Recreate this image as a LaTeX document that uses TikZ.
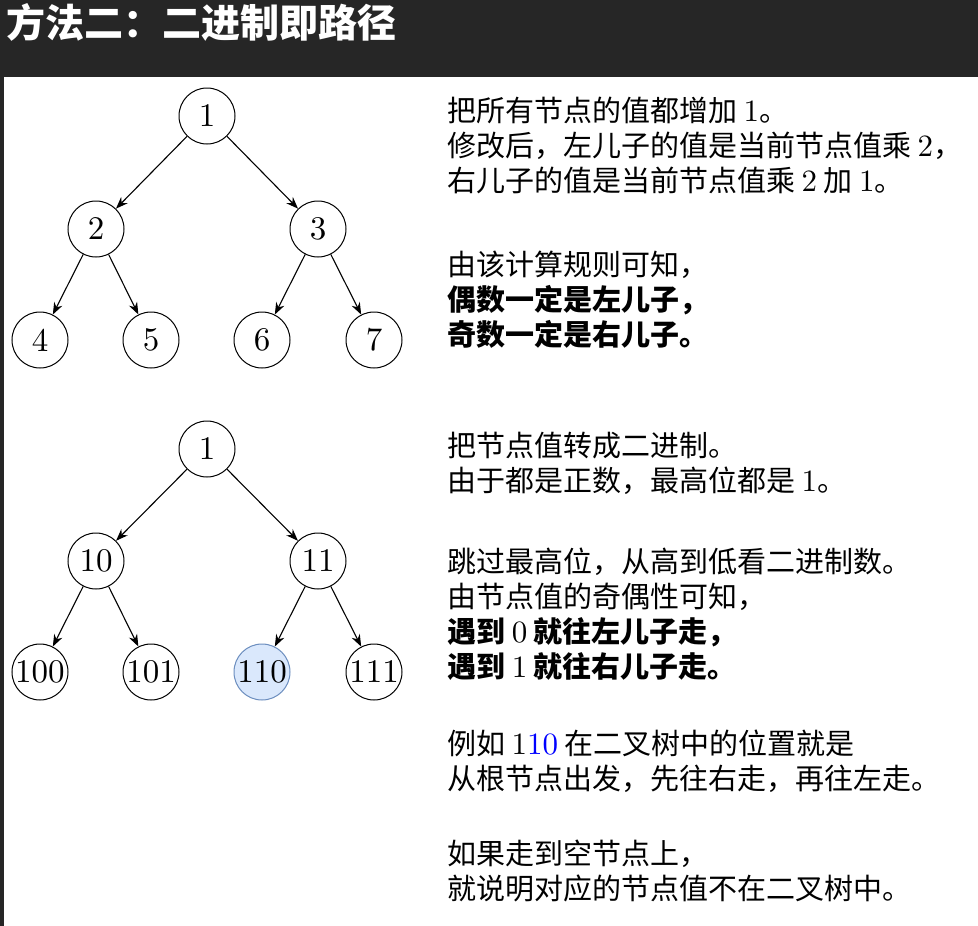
\documentclass[tikz,border=0pt]{standalone}
\usepackage{fontspec}
\newfontfamily\cjk{Noto Sans CJK SC}
\newfontfamily\lmten{lmroman10-regular.otf}
\usetikzlibrary{arrows.meta}
\definecolor{headbg}{HTML}{262626}
\definecolor{hlfill}{HTML}{DAE8FC}
\definecolor{hldraw}{HTML}{6C8EBF}
\newcommand{\lmn}[1]{{\lmten\mdseries\fontsize{31}{35}\selectfont #1}}
\tikzset{
  vertex/.style={circle,draw,line width=1pt,minimum size=56pt,inner sep=0pt,font=\lmten\fontsize{33}{33}\selectfont},
  plain/.style={},
  hl/.style={fill=hlfill,draw=hldraw},
  para/.style={anchor=west,align=left,inner sep=0pt,font=\cjk\fontsize{29}{35}\selectfont},
}
\begin{document}
\begin{tikzpicture}[x=1pt,y=-1pt,>={Stealth[length=12pt,width=9pt]}]
      \useasboundingbox (0,0) rectangle (978,926);
      \fill[white] (0,0) rectangle (978,926);
      \fill[headbg] (0,0) rectangle (978,77);
      \fill[headbg] (0,77) rectangle (4,926);
      \node[anchor=west,inner sep=0pt,text=white,font=\cjk\bfseries\fontsize{39}{39}\selectfont] (title) at (6,22) {方法二：二进制即路径};
      % upper tree: values plus one
      \foreach \n/\x/\y in {1/207/116,2/96/229,3/318/229,4/40/340,5/151/340,6/262/340,7/374/340}
        \node[vertex] (t\n) at (\x,\y) {\n};
      \foreach \p/\c in {1/2,1/3,2/4,2/5,3/6,3/7}
        \draw[->,line width=1.1pt] (t\p) -- (t\c);
      % lower tree: the same values in binary
      \foreach \n/\x/\y/\lab/\s in {1/207/449/1/plain,2/96/561/10/plain,3/318/561/11/plain,4/40/672/100/plain,5/151/672/101/plain,6/262/672/110/hl,7/374/672/111/plain}
        \node[vertex,\s] (b\n) at (\x,\y) {\lab};
      \foreach \p/\c in {1/2,1/3,2/4,2/5,3/6,3/7}
        \draw[->,line width=1.1pt] (b\p) -- (b\c);
      % explanations
      \node[para] (p1) at (447,145.5) {把所有节点的值都增加 \lmn{1}。\\修改后，左儿子的值是当前节点值乘 \lmn{2}，\\右儿子的值是当前节点值乘 \lmn{2} 加 \lmn{1}。};
      \node[para] (p2) at (447,299.5) {由该计算规则可知，\\{\bfseries 偶数一定是左儿子，}\\{\bfseries 奇数一定是右儿子。}};
      \node[para] (p3) at (447,463) {把节点值转成二进制。\\由于都是正数，最高位都是 \lmn{1}。};
      \node[para] (p4) at (447,614) {跳过最高位，从高到低看二进制数。\\由节点值的奇偶性可知，\\{\bfseries 遇到 \lmn{0} 就往左儿子走，}\\{\bfseries 遇到 \lmn{1} 就往右儿子走。}};
      \node[para] (p5) at (447,761.5) {例如 \lmn{1\textcolor{blue}{10}} 在二叉树中的位置就是\\从根节点出发，先往右走，再往左走。};
      \node[para] (p6) at (447,870.5) {如果走到空节点上，\\就说明对应的节点值不在二叉树中。};
    \end{tikzpicture}
\end{document}
